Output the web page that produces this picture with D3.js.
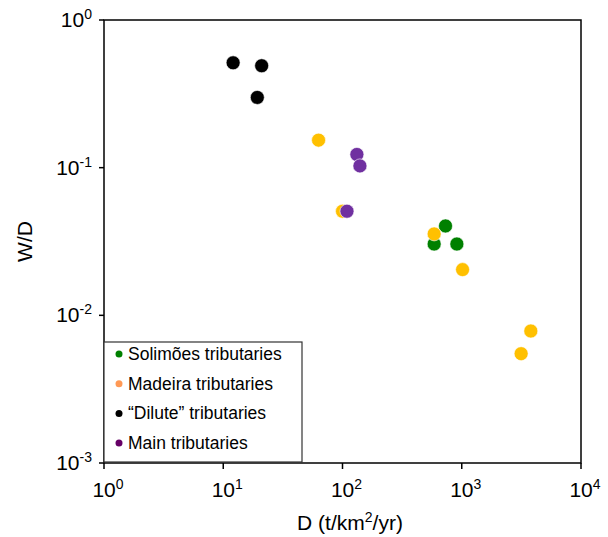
<!DOCTYPE html>
<html>
<head>
<meta charset="utf-8">
<script src="https://cdn.jsdelivr.net/npm/d3@7"></script>
<style>
  body { margin: 0; background: #fff; }
  text { font-family: "Liberation Sans", Arial, sans-serif; fill: #000; }
</style>
</head>
<body>
<div id="chart"></div>
<script>
// D (t/km2/yr) and W/D per group
var solimoesD  = [731, 587, 910];
var solimoesWD = [0.0403, 0.0304, 0.0304];

var madeiraD  = [63, 100, 587, 1016, 3795, 3148];
var madeiraWD = [0.1536, 0.0507, 0.0356, 0.0204, 0.00783, 0.0055];

var diluteD  = [12.1, 21.0, 19.3];
var diluteWD = [0.513, 0.49, 0.299];

var mainD  = [132, 140, 109];
var mainWD = [0.1229, 0.1028, 0.0507];

var xTicks = [1, 10, 100, 1000, 10000];
var yTicks = [1, 0.1, 0.01, 0.001];

var groups = [
  {name: "Solimões tributaries", d: solimoesD, wd: solimoesWD, color: "#008000", key: "#008000"},
  {name: "Madeira tributaries", d: madeiraD, wd: madeiraWD, color: "#FFC000", key: "#FF9955"},
  {name: "\u201CDilute\u201D tributaries", d: diluteD, wd: diluteWD, color: "#000000", key: "#000000"},
  {name: "Main tributaries", d: mainD, wd: mainWD, color: "#7030A0", key: "#660066"}
];

var margin = {top: 20, right: 27, bottom: 74, left: 104},
    width = 608 - margin.left - margin.right,
    height = 537 - margin.top - margin.bottom;

var svg = d3.select("#chart").append("svg")
    .attr("width", 608)
    .attr("height", 537)
  .append("g")
    .attr("transform", "translate(" + margin.left + "," + margin.top + ")");

var x = d3.scaleLog().domain([1, 10000]).range([0, width]);
var y = d3.scaleLog().domain([0.001, 1]).range([height, 0]);

// points, drawn group by group so later groups sit on top
groups.forEach(function(g, gi) {
  svg.selectAll(".pt" + gi)
      .data(g.d.map(function(d, i) { return {d: d, wd: g.wd[i]}; }))
      .enter().append("circle")
      .attr("cx", function(p) { return x(p.d); })
      .attr("cy", function(p) { return y(p.wd); })
      .attr("r", 7)
      .style("fill", g.color)
      .style("stroke", "#fff")
      .style("stroke-width", 0.6);
});

// frame
svg.append("rect")
    .attr("width", width)
    .attr("height", height)
    .style("fill", "none")
    .style("stroke", "#000")
    .style("stroke-width", 1.5);

// ticks + labels
function powLabel(sel, exp) {
  sel.append("tspan").text("10");
  sel.append("tspan").attr("dy", -8).style("font-size", "14px").text(exp);
}

var xAxis = svg.append("g").attr("transform", "translate(0," + height + ")");
xTicks.forEach(function(t) {
  var px = x(t);
  xAxis.append("line").attr("x1", px).attr("x2", px).attr("y1", 0).attr("y2", 6)
      .style("stroke", "#000").style("stroke-width", 1.5);
  var lab = xAxis.append("text")
      .attr("x", px + 4).attr("y", 34)
      .attr("text-anchor", "middle")
      .style("font-size", "21px");
  powLabel(lab, Math.round(Math.log10(t)));
});

var yAxis = svg.append("g");
yTicks.forEach(function(t) {
  var py = y(t);
  yAxis.append("line").attr("x1", -5).attr("x2", 0).attr("y1", py).attr("y2", py)
      .style("stroke", "#000").style("stroke-width", 1.5);
  var lab = yAxis.append("text")
      .attr("x", -12).attr("y", py + 7)
      .attr("text-anchor", "end")
      .style("font-size", "21px");
  powLabel(lab, Math.round(Math.log10(t)));
});

// axis titles
var xl = svg.append("text")
    .attr("x", 246).attr("y", height + 67)
    .attr("text-anchor", "middle")
    .style("font-size", "21px");
xl.append("tspan").text("D (t/km");
xl.append("tspan").attr("dy", -8).style("font-size", "14px").text("2");
xl.append("tspan").attr("dy", 8).text("/yr)");

svg.append("text")
    .attr("transform", "translate(-72," + (height / 2) + ") rotate(-90)")
    .attr("text-anchor", "middle")
    .style("font-size", "21px")
    .text("W/D");

// legend
var legend = svg.append("g").attr("transform", "translate(0,322)");
legend.append("rect")
    .attr("width", 198).attr("height", 120)
    .style("fill", "#fff")
    .style("stroke", "#333")
    .style("stroke-width", 1.2);

var item = legend.selectAll(".legend")
    .data(groups)
    .enter().append("g")
    .attr("class", "legend")
    .attr("transform", function(d, i) { return "translate(0," + (12 + i * 29.7) + ")"; });

item.append("circle")
    .attr("cx", 15).attr("cy", 0).attr("r", 3.5)
    .style("fill", function(d) { return d.key; });

item.append("text")
    .attr("x", 24).attr("y", 6)
    .style("font-size", "17.5px")
    .text(function(d) { return d.name; });
</script>
</body>
</html>
